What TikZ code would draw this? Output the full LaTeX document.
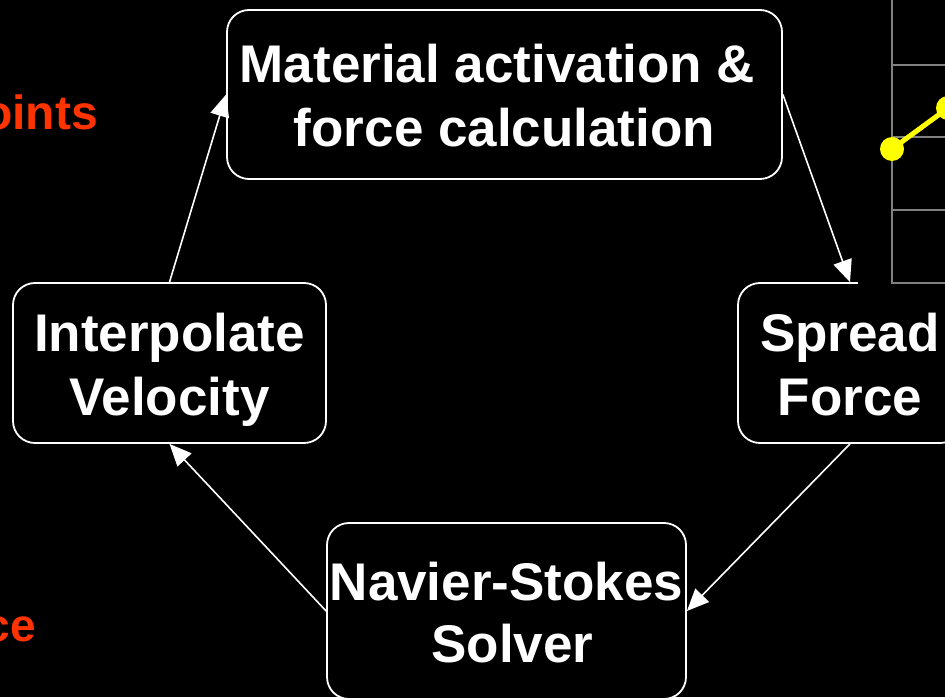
\documentclass[tikz,border=0pt]{standalone}
\usepackage{fontspec}
\setmainfont{Liberation Sans}
\usetikzlibrary{arrows.meta}
\definecolor{redtxt}{HTML}{FF3300}
\definecolor{gridgray}{HTML}{808080}
\definecolor{ylw}{HTML}{FFFF00}
\begin{document}
\begin{tikzpicture}[x=1pt,y=1pt,
  box/.style={draw=white, line width=1.8pt, rounded corners=22pt, fill=black, inner sep=0pt},
  lbl/.style={text=white, font=\fontsize{53}{63}\selectfont\bfseries, inner sep=0pt, anchor=base},
  arr/.style={draw=white, line width=1.6pt, -{Triangle[length=22pt,width=19pt]}},
  side/.style={text=redtxt, inner sep=0pt, anchor=base east},
  gridline/.style={draw=gridgray, line width=1.5pt},
  dot/.style={circle, fill=ylw, minimum size=24pt, inner sep=0pt}]
\fill[black] (0,0) rectangle (945,697);
\useasboundingbox (0,0) rectangle (945,697);

% boxes
\node[box, minimum width=555pt, minimum height=169pt] (mat) at (504.5,602.5) {};
\node[box, minimum width=313pt, minimum height=160pt] (interp) at (169.5,334) {};
\node[box, minimum width=224pt, minimum height=160pt] (spread) at (850,334) {};
\node[box, minimum width=359pt, minimum height=176pt] (nav) at (506.5,86) {};

% labels
\node[lbl] (mat1) at (497.5,614) {Material activation \&};
\node[lbl] (mat2) at (504.5,550) {force calculation};
\node[lbl] (int1) at (169.5,345) {Interpolate};
\node[lbl] (int2) at (169.5,282) {Velocity};
\node[lbl] (spr1) at (850,345) {Spread};
\node[lbl] (spr2) at (850,282) {Force};
\node[lbl] (nav1) at (506.5,97) {Navier-Stokes};
\node[lbl] (nav2) at (512.5,35) {Solver};

% connectors
\draw[arr] (interp.north) -- (mat.west);
\draw[arr] (mat.east) -- (spread.north);
\draw[arr] (spread.south) -- (nav.east);
\draw[arr] (nav.west) -- (interp.south);

% chart fragment (top right)
\fill[black] (858,412) rectangle (950,700);
\draw[gridline] (892,700) -- (892,414) -- (950,414);
\draw[gridline] (892,632) -- (950,632);
\draw[gridline] (892,560) -- (950,560);
\draw[gridline] (892,487) -- (950,487);
\node[dot] (d1) at (892,548) {};
\node[dot] (d2) at (948,589) {};
\draw[ylw, line width=5pt] (d1.center) -- (d2.center);

% partial side texts
\node[side, font=\fontsize{48}{56}\selectfont\bfseries] (pts) at (98,567) {oints};
\node[side, font=\fontsize{46}{54}\selectfont\bfseries] (ce) at (36,56) {ce};
\end{tikzpicture}
\end{document}
